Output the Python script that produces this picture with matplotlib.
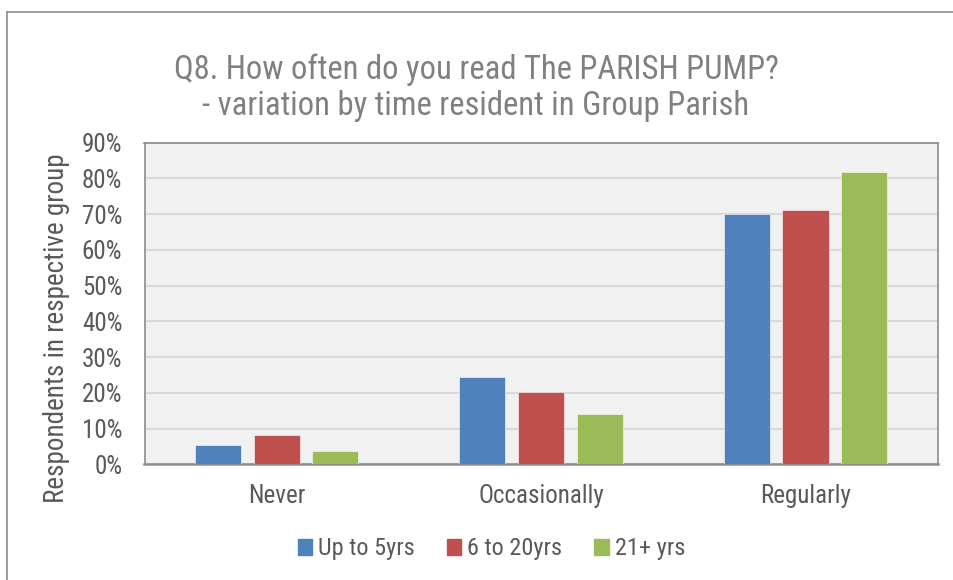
import matplotlib
matplotlib.use("Agg")
import matplotlib.pyplot as plt
from matplotlib.lines import Line2D
import numpy as np

plt.rcParams['font.family'] = ['Liberation Sans Narrow', 'Roboto Condensed', 'Liberation Sans', 'DejaVu Sans']

categories = ["Never", "Occasionally", "Regularly"]
series_names = ["Up to 5yrs", "6 to 20yrs", "21+ yrs"]
up_to_5 = [5.3, 24.3, 70.0]
six_to_20 = [8.3, 20.2, 71.2]
over_21 = [3.8, 14.0, 81.7]
yticks = [0, 10, 20, 30, 40, 50, 60, 70, 80, 90]
colors = ["#4F81BD", "#C0504D", "#9BBB59"]

fig = plt.figure(figsize=(9.54, 5.80), dpi=100)
ax = fig.add_axes([144.5/954, 1 - 464.3/580, (937.7-144.5)/954, (464.3-142.7)/580])
ax.set_facecolor("#F1F1F1")

x = np.arange(len(categories))
width = 0.174
step = 0.222
for i, (vals, name, c) in enumerate(zip([up_to_5, six_to_20, over_21], series_names, colors)):
    ax.bar(x + (i - 1) * step, vals, width, color=c, label=name, zorder=3,
           edgecolor="white", linewidth=0.4)

ax.set_xlim(-0.5, 2.5)
ax.set_ylim(0, 90)
ax.set_yticks(yticks)
ax.set_yticklabels([f"{v}%" for v in yticks])
ax.set_xticks(x)
ax.set_xticklabels(categories)
ax.yaxis.grid(True, color="#D9D9D9", linewidth=1.5, zorder=0)
ax.set_axisbelow(True)
for s in ax.spines.values():
    s.set_color("#8C8C8C")
    s.set_linewidth(1.2)
ax.spines['bottom'].set_linewidth(1.8)
ax.tick_params(axis='both', length=0, labelsize=18, colors="#595959")
ax.tick_params(axis='y', pad=16)
ax.tick_params(axis='x', pad=14)

fig.text(57/954, 1 - 328/580, "Respondents in respective group", rotation=90,
         ha="center", va="center", fontsize=19.5, color="#595959")

fig.text(0.499, 1 - 70/580, "Q8. How often do you read The PARISH PUMP?",
         ha="center", va="center", fontsize=23.5, color="#808080")
fig.text(0.499, 1 - 106/580, "- variation by time resident in Group Parish",
         ha="center", va="center", fontsize=23.5, color="#808080")

handles = [plt.Rectangle((0, 0), 1, 1, color=c) for c in colors]
leg = fig.legend(handles, series_names, loc="center", bbox_to_anchor=(0.515, 1 - 549/580),
                 ncol=3, frameon=False, fontsize=17.5, handlelength=0.6, handleheight=0.6,
                 handletextpad=0.25, columnspacing=1.3)
for t in leg.get_texts():
    t.set_color("#595959")

# outer chart border (left and top)
fig.add_artist(Line2D([7/954, 7/954], [0, 1 - 11.5/580], transform=fig.transFigure,
                      color="#8C8C8C", linewidth=1.2))
fig.add_artist(Line2D([7/954, 1], [1 - 11.5/580, 1 - 11.5/580], transform=fig.transFigure,
                      color="#8C8C8C", linewidth=1.2))

fig.savefig("out.png", dpi=100)
